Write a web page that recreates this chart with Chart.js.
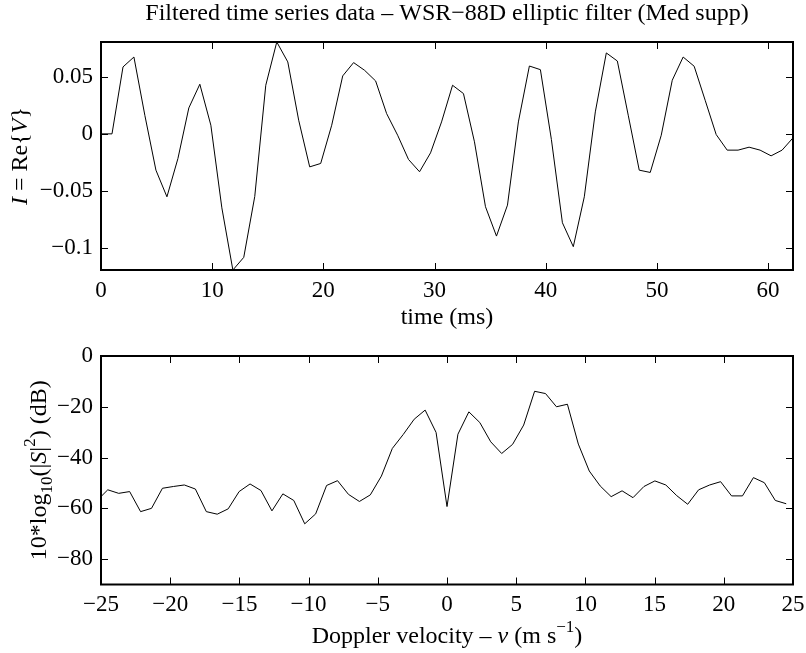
<!DOCTYPE html>
<html>
<head>
<meta charset="utf-8">
<script src="https://cdn.jsdelivr.net/npm/chart.js@4/dist/chart.umd.min.js"></script>
<style>
  body { margin: 0; background: #fff; }
  #wrap { position: relative; width: 806px; height: 653px; }
  #wrap canvas { position: absolute; left: 0; top: 0; }
</style>
</head>
<body>
<div id="wrap">
  <canvas id="timeSeriesChart" width="806" height="653"></canvas>
  <canvas id="spectrumChart" width="806" height="653"></canvas>
</div>
<script>
// time axis (ms), one sample per PRT
const timeMs = [
  0, 0.99, 1.98, 2.96, 3.95, 4.94, 5.93, 6.92, 7.90, 8.89, 9.88, 10.87, 11.86, 12.84, 13.83, 14.82,
  15.81, 16.80, 17.78, 18.77, 19.76, 20.75, 21.74, 22.72, 23.71, 24.70, 25.69, 26.68, 27.66, 28.65, 29.64, 30.63,
  31.62, 32.60, 33.59, 34.58, 35.57, 36.56, 37.54, 38.53, 39.52, 40.51, 41.50, 42.48, 43.47, 44.46, 45.45, 46.44,
  47.42, 48.41, 49.40, 50.39, 51.38, 52.36, 53.35, 54.34, 55.33, 56.32, 57.30, 58.29, 59.28, 60.27, 61.26, 62.24
]

// I = Re{V}
const inPhase = [
  0, 0, 0.0588, 0.0675, 0.016, -0.0319, -0.0553, -0.0216, 0.0228, 0.0436, 0.0076, -0.065, -0.1196, -0.1085, -0.055, 0.0427,
  0.0807, 0.0632, 0.012, -0.029, -0.026, 0.0076, 0.0509, 0.0626, 0.0558, 0.0465, 0.0178, -0.0012, -0.0225, -0.0333, -0.0167, 0.0105,
  0.0427, 0.0354, -0.007, -0.064, -0.0898, -0.0626, 0.0105, 0.0596, 0.0564, -0.005, -0.0781, -0.0991, -0.0553, 0.0193, 0.0711, 0.064,
  0.0164, -0.0319, -0.0339, -0.0012, 0.0471, 0.0675, 0.0594, 0.0295, -0.0006, -0.0143, -0.0143, -0.0117, -0.0143, -0.0193, -0.0143, -0.0035
]

// Doppler velocity bins (m/s)
const velocity = [
  -25.30, -24.51, -23.72, -22.93, -22.14, -21.35, -20.56, -19.77, -18.98, -18.18, -17.39, -16.60, -15.81, -15.02, -14.23, -13.44,
  -12.65, -11.86, -11.07, -10.28, -9.49, -8.70, -7.91, -7.12, -6.33, -5.54, -4.74, -3.95, -3.16, -2.37, -1.58, -0.79,
  0, 0.79, 1.58, 2.37, 3.16, 3.95, 4.74, 5.54, 6.33, 7.12, 7.91, 8.70, 9.49, 10.28, 11.07, 11.86,
  12.65, 13.44, 14.23, 15.02, 15.81, 16.60, 17.39, 18.18, 18.98, 19.77, 20.56, 21.35, 22.14, 22.93, 23.72, 24.51
]

// 10*log10(|S|^2) in dB
const powerDb = [
  -57, -52.7, -54.1, -53.4, -61.3, -60, -52.1, -51.4, -50.8, -52.4, -61.3, -62.3, -60.2, -53.4, -50.4, -53,
  -61, -54.3, -56.9, -66.1, -62.2, -51, -49.1, -54.5, -57.3, -54.7, -47.3, -36.4, -30.9, -24.9, -21.3, -30.1,
  -59.3, -30.8, -22, -26.2, -33.8, -38.4, -34.8, -27.2, -13.9, -14.8, -20, -19, -34.7, -45.3, -51.2, -55.4,
  -53.1, -55.8, -51.4, -49.2, -50.8, -55, -58.4, -52.7, -50.8, -49.5, -55.1, -55.1, -47.9, -49.9, -56.9, -58.2
]

const timeTicks = [0, 10, 20, 30, 40, 50, 60]
const inPhaseTicks = [-0.1, -0.05, 0, 0.05]
const velocityTicks = [-25, -20, -15, -10, -5, 0, 5, 10, 15, 20, 25]
const powerTicks = [-80, -60, -40, -20, 0]

const FONT_FAMILY = '"Liberation Serif", "Times New Roman", serif'
const FONT_SIZE = 23
const LABEL_SIZE = 24

// labels per canvas, kept outside chart options so Chart.js does not proxy them
const axisTexts = {
  timeSeriesChart: [
    { y: 14, runs: [{ t: 'Filtered time series data \u2013 WSR\u221288D elliptic filter (Med supp)' }] },
    { y: 318, runs: [{ t: 'time (ms)' }] },
    { x: 21, rotate: true, runs: [{ t: 'I', italic: true }, { t: ' = Re{' }, { t: 'V', italic: true }, { t: '}' }] }
  ],
  spectrumChart: [
    {
      y: 637,
      runs: [
        { t: 'Doppler velocity \u2013 ' },
        { t: 'v', italic: true },
        { t: ' (m s' },
        { t: '\u22121', shift: 'sup' },
        { t: ')' }
      ]
    },
    {
      x: 40,
      rotate: true,
      runs: [
        { t: '10*log' },
        { t: '10', shift: 'sub' },
        { t: '(|' },
        { t: 'S', italic: true },
        { t: '|' },
        { t: '2', shift: 'sup' },
        { t: ') (dB)' }
      ]
    }
  ]
}

function minusSign(v) {
  return String(v).replace('-', '\u2212')
}

// draw a label made of runs (italic / sub / sup), centred on x,y
function drawRuns(ctx, runs, x, y, rotate) {
  const fontFor = r => {
    const size = r.shift ? Math.round(LABEL_SIZE * 0.7) : LABEL_SIZE
    return (r.italic ? 'italic ' : '') + size + 'px ' + FONT_FAMILY
  }
  let total = 0
  const widths = runs.map(r => {
    ctx.font = fontFor(r)
    const w = ctx.measureText(r.t).width
    total += w
    return w
  })
  ctx.save()
  ctx.translate(x, y)
  if (rotate) ctx.rotate(-Math.PI / 2)
  ctx.fillStyle = '#000'
  ctx.textBaseline = 'middle'
  ctx.textAlign = 'left'
  let cx = -total / 2
  runs.forEach((r, i) => {
    ctx.font = fontFor(r)
    let dy = 0
    if (r.shift === 'sub') dy = LABEL_SIZE * 0.32
    if (r.shift === 'sup') dy = -LABEL_SIZE * 0.4
    ctx.fillText(r.t, cx, dy)
    cx += widths[i]
  })
  ctx.restore()
}

// box with inward ticks on all four sides + text labels
const matlabFrame = {
  id: 'matlabFrame',
  afterDraw(chart) {
    const { ctx, chartArea } = chart
    const { left, right, top, bottom } = chartArea
    const xs = chart.scales.x
    const ys = chart.scales.y
    const len = 7
    ctx.save()
    ctx.strokeStyle = '#000'
    ctx.lineWidth = 1
    ctx.beginPath()
    xs.ticks.forEach(t => {
      const px = Math.round(xs.getPixelForValue(t.value)) + 0.5
      ctx.moveTo(px, bottom)
      ctx.lineTo(px, bottom - len)
      ctx.moveTo(px, top)
      ctx.lineTo(px, top + len)
    })
    ys.ticks.forEach(t => {
      const py = Math.round(ys.getPixelForValue(t.value)) + 0.5
      ctx.moveTo(left, py)
      ctx.lineTo(left + len, py)
      ctx.moveTo(right, py)
      ctx.lineTo(right - len, py)
    })
    ctx.stroke()
    ctx.lineWidth = 2
    ctx.strokeRect(left, top, right - left, bottom - top)
    ctx.restore()

    const midX = (left + right) / 2
    const midY = (top + bottom) / 2
    ;(axisTexts[chart.canvas.id] || []).forEach(item => {
      const x = item.x !== undefined ? item.x : midX
      const y = item.y !== undefined ? item.y : midY
      drawRuns(ctx, item.runs, x, y, item.rotate)
    })
  }
}

function buildChart(canvasId, xs, ys, cfg) {
  const tickFont = { family: FONT_FAMILY, size: FONT_SIZE }
  return new Chart(document.getElementById(canvasId), {
    type: 'line',
    data: {
      datasets: [
        {
          data: xs.map((x, i) => ({ x: x, y: ys[i] })),
          borderColor: '#000',
          borderWidth: 1,
          pointRadius: 0,
          tension: 0,
          fill: false
        }
      ]
    },
    options: {
      responsive: false,
      animation: false,
      events: [],
      layout: { padding: cfg.padding },
      plugins: {
        legend: { display: false },
        tooltip: { enabled: false }
      },
      scales: {
        x: {
          type: 'linear',
          min: cfg.xMin,
          max: cfg.xMax,
          grid: { display: false, drawTicks: false },
          border: { display: false },
          ticks: {
            font: tickFont,
            color: '#000',
            padding: 7,
            maxRotation: 0,
            autoSkip: false,
            callback: v => minusSign(v)
          },
          afterBuildTicks: s => {
            s.ticks = cfg.xTicks.map(v => ({ value: v }))
          },
          afterFit: s => {
            s.height = cfg.xHeight
            s.paddingLeft = 0
            s.paddingRight = 0
          }
        },
        y: {
          min: cfg.yMin,
          max: cfg.yMax,
          grid: { display: false, drawTicks: false },
          border: { display: false },
          ticks: {
            font: tickFont,
            color: '#000',
            padding: 8,
            autoSkip: false,
            callback: v => minusSign(v)
          },
          afterBuildTicks: s => {
            s.ticks = cfg.yTicks.map(v => ({ value: v }))
          },
          afterFit: s => {
            s.width = 101
            s.paddingTop = 0
            s.paddingBottom = 0
          }
        }
      }
    },
    plugins: [matlabFrame]
  })
}

buildChart('timeSeriesChart', timeMs, inPhase, {
  padding: { top: 42, right: 13, bottom: 323, left: 0 },
  xMin: 0,
  xMax: 62.24,
  yMin: -0.1196,
  yMax: 0.0807,
  xTicks: timeTicks,
  yTicks: inPhaseTicks,
  xHeight: 60
})

buildChart('spectrumChart', velocity, powerDb, {
  padding: { top: 356, right: 13, bottom: 0, left: 0 },
  xMin: -25,
  xMax: 25,
  yMin: -90,
  yMax: 0,
  xTicks: velocityTicks,
  yTicks: powerTicks,
  xHeight: 68.5
})
</script>
</body>
</html>
